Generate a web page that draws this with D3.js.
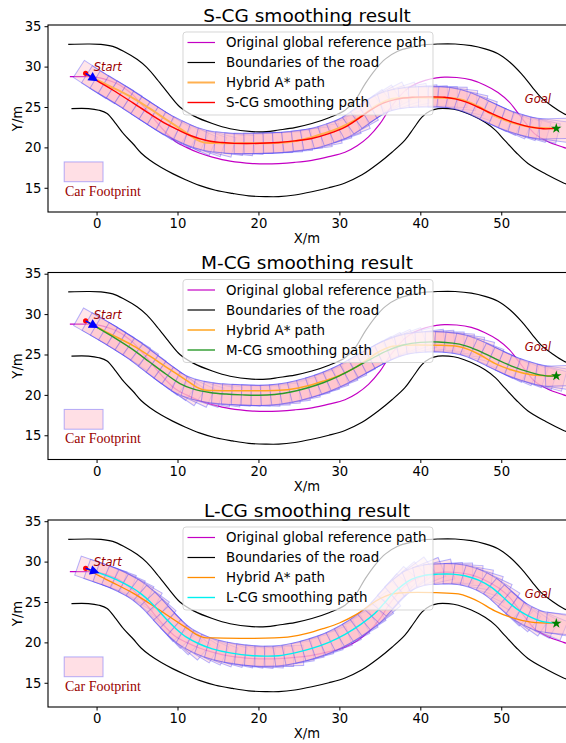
<!DOCTYPE html>
<html>
<head>
<meta charset="utf-8">
<script src="https://cdn.jsdelivr.net/npm/d3@7"></script>
<style>
  body { margin: 0; background: #fff; }
  svg { display: block; font-family: "DejaVu Sans", sans-serif; }
</style>
</head>
<body>
<svg id="chart" width="566" height="743"></svg>
<script>
// Road geometry (metres)
const upperBoundary = [
  [-3.5,32.75],[-1,32.8],[0.5,32.75],[2,32.5],[3.5,31.8],[5,30.9],[6.2,29.9],[7.5,28.4],
  [9,26.5],[10.3,25.0],[12,23.9],[14.3,22.95],[16.5,22.3],[19.2,21.95],[21,21.95],[22.5,22.15],
  [24.5,22.45],[26.6,22.95],[28.8,23.7],[30.7,24.6],[32,25.9],[33.2,27.9],[34.5,29.7],[35.7,30.95],
  [37.2,31.9],[38.9,32.4],[40.5,32.7],[42.2,32.8],[44.3,32.8],[46.3,32.6],[48,32.2],[49.6,31.6],
  [51,30.6],[52.5,29.1],[53.8,27.5],[54.9,26.2],[56.3,25.1],[57.7,24.2],[59.5,23.4]
];
const lowerBoundary = [
  [-3.1,24.8],[-1,24.8],[0.3,24.6],[1.3,24.2],[2.4,22.9],[3.4,21.6],[4.5,20.45],[5.5,19.3],
  [6.6,18.4],[8,17.5],[9.4,16.75],[11,16.0],[12.7,15.3],[14.7,14.7],[16.8,14.3],[18.8,14.0],
  [20.9,13.9],[22.5,13.9],[24.5,14.1],[26.6,14.5],[28.7,15.0],[30.7,15.6],[32.8,16.6],[34.8,18.0],
  [36.5,19.4],[38.1,20.9],[39.2,22.4],[40.2,23.75],[41.2,24.5],[42.2,24.8],[43.5,24.8],[44.7,24.6],
  [46.3,24.0],[48.0,23.1],[49.3,22.1],[50.4,20.9],[51.8,19.4],[53.3,18.0],[55.5,16.7],[57.7,15.6],
  [59.5,14.9]
];
const referencePath = [
  [-3.3,28.75],[-1,28.75],[0.4,28.6],[1.5,28.3],[2.5,27.9],[3.5,27.3],[4.5,26.5],[5.5,25.4],
  [6.55,24.2],[7.6,22.9],[8.6,21.8],[9.8,20.7],[11.1,20.0],[12.7,19.3],[14.3,18.8],[16.5,18.3],
  [19.3,18.0],[21,17.95],[22.5,18.0],[24.5,18.15],[26.6,18.4],[28.7,18.85],[30.7,19.4],[32.2,20.2],
  [33.6,21.3],[35,22.9],[36.1,24.6],[37.1,25.9],[38.1,27.0],[39.3,27.8],[40.6,28.3],[42,28.6],
  [43,28.7],[44.5,28.65],[46.3,28.35],[48,27.7],[49.6,26.8],[51,25.6],[52.1,24.2],[53.1,22.9],
  [54.1,21.7],[55.8,20.7],[57.7,20.0],[59.5,19.4]
];
// Planner output and the three smoothed trajectories
const hybridAStarPath = [
  [-1.35,29.17],[0,28.4],[2,27.4],[4.5,26.1],[6.5,24.85],[8.6,23.45],[11.1,21.8],[12.3,21.0],
  [13.3,20.6],[14.5,20.55],[22,20.55],[24,20.7],[26,21.1],[28,21.7],[30,22.4],[32,23.4],
  [33.6,24.5],[35,25.4],[36.3,25.95],[38,26.15],[42,26.15],[44.7,26.0],[46,25.6],[47.3,25.0],
  [49.2,23.9],[51.2,23.1],[53.7,22.5],[56.8,22.35]
];
const scgPath = [
  [-1.35,29.17],[0,28.3],[2,27.1],[4.5,25.5],[6.5,24.2],[8.6,22.9],[10,22.2],[11.5,21.5],
  [13.6,20.85],[15.5,20.6],[17,20.5],[22.5,20.6],[24.5,20.8],[26.6,21.1],[28.7,21.7],[30.7,22.5],
  [32.4,23.6],[34,24.7],[35.5,25.5],[37,25.95],[39,26.2],[41.4,26.25],[43,26.2],[44.3,26.0],
  [45.7,25.6],[47.1,25.0],[48.8,24.2],[50.4,23.5],[52,22.95],[53.7,22.5],[55.2,22.3],[56.8,22.35]
];
const mcgPath = [
  [-1.35,29.17],[0,28.4],[2,27.2],[4.5,25.6],[6.5,24.1],[8.6,22.55],[10.3,21.4],[11.9,20.75],
  [14,20.3],[16,20.1],[18,20.0],[20,19.95],[22,20.05],[24,20.35],[26,20.85],[28,21.5],
  [30,22.35],[32,23.4],[34,24.5],[36,25.5],[38,26.2],[40,26.5],[42.2,26.55],[44,26.4],
  [45.5,26.1],[47.1,25.5],[49,24.6],[51.2,23.6],[53.7,22.75],[55.5,22.35],[56.8,22.35]
];
const lcgPath = [
  [-1.35,29.17],[0,28.7],[1.65,28.1],[3,27.5],[4.5,26.7],[5.5,26.0],[6.55,25.1],[7.6,24.0],
  [8.6,22.9],[9.8,21.7],[11.1,20.65],[12.7,19.8],[14.3,19.2],[16.5,18.7],[19.3,18.35],[21,18.3],
  [22.5,18.35],[24.5,18.7],[26.6,19.25],[28.7,20.0],[30.7,21.0],[32.6,22.2],[34.4,23.6],[35.5,24.8],
  [36.5,25.95],[37.7,27.0],[38.9,27.8],[40.5,28.3],[42.2,28.45],[44,28.45],[45.5,28.25],[47.2,27.7],
  [48.8,26.8],[50,25.8],[51.2,24.7],[52.4,23.8],[53.7,23.1],[55,22.6],[56.8,22.35]
];

const startPoint = [-1.35, 29.17];
const goalPoint = [56.8, 22.35];
const startLabelPos = [-0.35, 29.4];
const goalLabelPos = [52.9, 25.45];

// Vehicle footprint (metres)
const carLength = 4.8, carWidth = 2.5, rearOverhang = 1.0, footprintStep = 1.2;
const footprintLegendBox = [-4.0, 15.75];   // lower-left corner of the legend swatch
const footprintLabelPos = [-3.9, 14.0];

const xTicks = [0, 10, 20, 30, 40, 50];
const yTicks = [15, 20, 25, 30, 35];
const xDomain = [-6, 58];
const yDomain = [12, 35.15];

const panelTitles = ["S-CG smoothing result", "M-CG smoothing result", "L-CG smoothing result"];
const legendLabels = ["Original global reference path", "Boundaries of the road", "Hybrid A* path"];
const smoothLabels = ["S-CG smoothing path", "M-CG smoothing path", "L-CG smoothing path"];
const smoothPaths = [scgPath, mcgPath, lcgPath];

// ---- styling / layout ----
const smoothColors = ["#ff0000", "#2a9a2a", "#00f0f0"];
const astarStyles = [
  { color: "#ffb050", width: 2.0 },
  { color: "#ffa520", width: 1.5 },
  { color: "#ff8c00", width: 1.3 }
];
const refColor = "#c400c4";
const labelRed = "#990000";
const panelTops = [25, 272.5, 520];
const plotLeft = 48, plotRight = 566, plotH = 187;

const svg = d3.select("#chart");
const defs = svg.append("defs");

panelTops.forEach((top, i) => {
  const x = d3.scaleLinear().domain(xDomain).range([plotLeft, plotRight]);
  const y = d3.scaleLinear().domain(yDomain).range([top + plotH, top]);
  const kx = x(1) - x(0), ky = y(0) - y(1);

  const clipId = "plotclip" + i;
  defs.append("clipPath").attr("id", clipId)
    .append("rect").attr("x", plotLeft).attr("y", top)
    .attr("width", plotRight - plotLeft).attr("height", plotH);

  const g = svg.append("g");
  const plot = g.append("g").attr("clip-path", `url(#${clipId})`);

  const line = d3.line()
    .x(d => x(d[0])).y(d => y(d[1]))
    .curve(d3.curveCatmullRom.alpha(0.5));

  // road boundaries
  [upperBoundary, lowerBoundary].forEach(b => {
    plot.append("path").datum(b).attr("d", line)
      .attr("fill", "none").attr("stroke", "#000").attr("stroke-width", 1.15);
  });
  // global reference path
  plot.append("path").datum(referencePath).attr("d", line)
    .attr("fill", "none").attr("stroke", refColor).attr("stroke-width", 1.2);

  // car footprints along the smoothed trajectory
  const sp = smoothPaths[i];
  const guide = plot.append("path").datum(sp).attr("d", line)
    .attr("fill", "none").attr("stroke", "none");
  const node = guide.node();
  const total = node.getTotalLength();
  const stepPx = footprintStep * kx;
  const poses = [];
  for (let s = 0; s <= total + 0.01; s += stepPx) {
    const sc = Math.min(s, total);
    const p = node.getPointAtLength(sc);
    const a = node.getPointAtLength(Math.max(sc - 1.5, 0));
    const b = node.getPointAtLength(Math.min(sc + 1.5, total));
    poses.push({ x: p.x, y: p.y, ang: Math.atan2(b.y - a.y, b.x - a.x) * 180 / Math.PI });
  }
  guide.remove();
  const fp = plot.append("g");
  fp.selectAll("rect").data(poses).join("rect")
    .attr("x", -rearOverhang * kx)
    .attr("y", -carWidth / 2 * ky)
    .attr("width", carLength * kx)
    .attr("height", carWidth * ky)
    .attr("transform", d => `translate(${d.x},${d.y}) rotate(${d.ang})`)
    .attr("fill", "rgba(255,185,198,0.36)")
    .attr("stroke", "rgba(40,40,255,0.34)")
    .attr("stroke-width", 1);

  // Hybrid A* path
  plot.append("path").datum(hybridAStarPath).attr("d", line)
    .attr("fill", "none").attr("stroke", astarStyles[i].color)
    .attr("stroke-width", astarStyles[i].width);
  // smoothed path
  plot.append("path").datum(sp).attr("d", line)
    .attr("fill", "none").attr("stroke", smoothColors[i]).attr("stroke-width", 1.4);

  // start marker: dot + heading arrow
  const sx = x(startPoint[0]), sy = y(startPoint[1]);
  const hx = x(sp[1][0]) - sx, hy = y(sp[1][1]) - sy;
  const hl = Math.hypot(hx, hy);
  const ux = hx / hl, uy = hy / hl;
  const tip = [sx + ux * 1.8 * kx, sy + uy * 1.8 * kx];
  const base = [sx + ux * 0.65 * kx, sy + uy * 0.65 * kx];
  const hw = 0.6 * kx;
  plot.append("circle").attr("cx", sx).attr("cy", sy).attr("r", 2.6).attr("fill", "#ff0000");
  plot.append("line").attr("x1", sx).attr("y1", sy).attr("x2", base[0]).attr("y2", base[1])
    .attr("stroke", "#0000ff").attr("stroke-width", 1.5);
  plot.append("path")
    .attr("d", `M${tip[0]},${tip[1]}L${base[0] - uy * hw},${base[1] + ux * hw}L${base[0] + uy * hw},${base[1] - ux * hw}Z`)
    .attr("fill", "#0000ff");
  plot.append("text").attr("x", x(startLabelPos[0])).attr("y", y(startLabelPos[1]))
    .style("font-size", "11.5px").style("font-style", "italic").attr("fill", labelRed).text("Start");

  // goal marker
  plot.append("path").attr("d", d3.symbol(d3.symbolStar, 34)())
    .attr("transform", `translate(${x(goalPoint[0])},${y(goalPoint[1])})`)
    .attr("fill", "#008000");
  plot.append("text").attr("x", x(goalLabelPos[0])).attr("y", y(goalLabelPos[1]))
    .style("font-size", "11.5px").style("font-style", "italic").attr("fill", labelRed).text("Goal");

  // footprint legend swatch
  plot.append("rect")
    .attr("x", x(footprintLegendBox[0]))
    .attr("y", y(footprintLegendBox[1] + carWidth - 0.05))
    .attr("width", carLength * kx).attr("height", (carWidth - 0.05) * ky)
    .attr("fill", "rgba(255,185,198,0.45)")
    .attr("stroke", "rgba(40,40,255,0.35)").attr("stroke-width", 1);
  plot.append("text").attr("x", x(footprintLabelPos[0])).attr("y", y(footprintLabelPos[1]))
    .style("font-family", "'Liberation Serif', 'Times New Roman', serif").style("font-size", "14px")
    .attr("fill", labelRed).text("Car Footprint");

  // legend
  const lg = g.append("g").attr("transform", `translate(183,${top + 7})`);
  lg.append("rect").attr("x", 0).attr("y", 0).attr("width", 250).attr("height", 83)
    .attr("rx", 3).attr("fill", "#fff").attr("fill-opacity", 0.72)
    .attr("stroke", "#cccccc").attr("stroke-opacity", 0.8);
  const items = [
    { label: legendLabels[0], color: refColor, w: 1.2 },
    { label: legendLabels[1], color: "#000", w: 1.2 },
    { label: legendLabels[2], color: astarStyles[i].color, w: astarStyles[i].width },
    { label: smoothLabels[i], color: smoothColors[i], w: 1.4 }
  ];
  items.forEach((it, k) => {
    const ry = 10.5 + 20 * k;
    lg.append("line").attr("x1", 4.5).attr("x2", 32).attr("y1", ry).attr("y2", ry)
      .attr("stroke", it.color).attr("stroke-width", it.w);
    lg.append("text").attr("x", 43).attr("y", ry + 4.8)
      .style("font-size", "13.4px").attr("fill", "#000").text(it.label);
  });

  // axes
  const xAxis = g.append("g").attr("transform", `translate(0,${top + plotH})`)
    .call(d3.axisBottom(x).tickValues(xTicks).tickSize(3.5).tickPadding(3.5).tickFormat(d3.format("d")));
  const yAxis = g.append("g").attr("transform", `translate(${plotLeft},0)`)
    .call(d3.axisLeft(y).tickValues(yTicks).tickSize(3.5).tickPadding(3).tickFormat(d3.format("d")));
  [xAxis, yAxis].forEach(ax => {
    ax.select(".domain").remove();
    ax.selectAll("text").attr("font-size", 13.2).attr("font-family", "DejaVu Sans, sans-serif").attr("fill", "#000");
    ax.selectAll("line").attr("stroke", "#000").attr("stroke-width", 1);
  });

  // frame
  g.append("rect").attr("x", plotLeft).attr("y", top)
    .attr("width", plotRight - plotLeft + 2).attr("height", plotH)
    .attr("fill", "none").attr("stroke", "#000").attr("stroke-width", 1.1);

  // labels and title
  g.append("text").attr("x", (plotLeft + plotRight) / 2).attr("y", top + plotH + 31)
    .attr("text-anchor", "middle").style("font-size", "13.2px").text("X/m");
  g.append("text").attr("transform", `translate(21.5,${top + plotH / 2}) rotate(-90)`)
    .attr("text-anchor", "middle").style("font-size", "13.2px").text("Y/m");
  g.append("text").attr("x", (plotLeft + plotRight) / 2).attr("y", top - 3.5)
    .attr("text-anchor", "middle").style("font-size", "18.5px").text(panelTitles[i]);
});
</script>
</body>
</html>
